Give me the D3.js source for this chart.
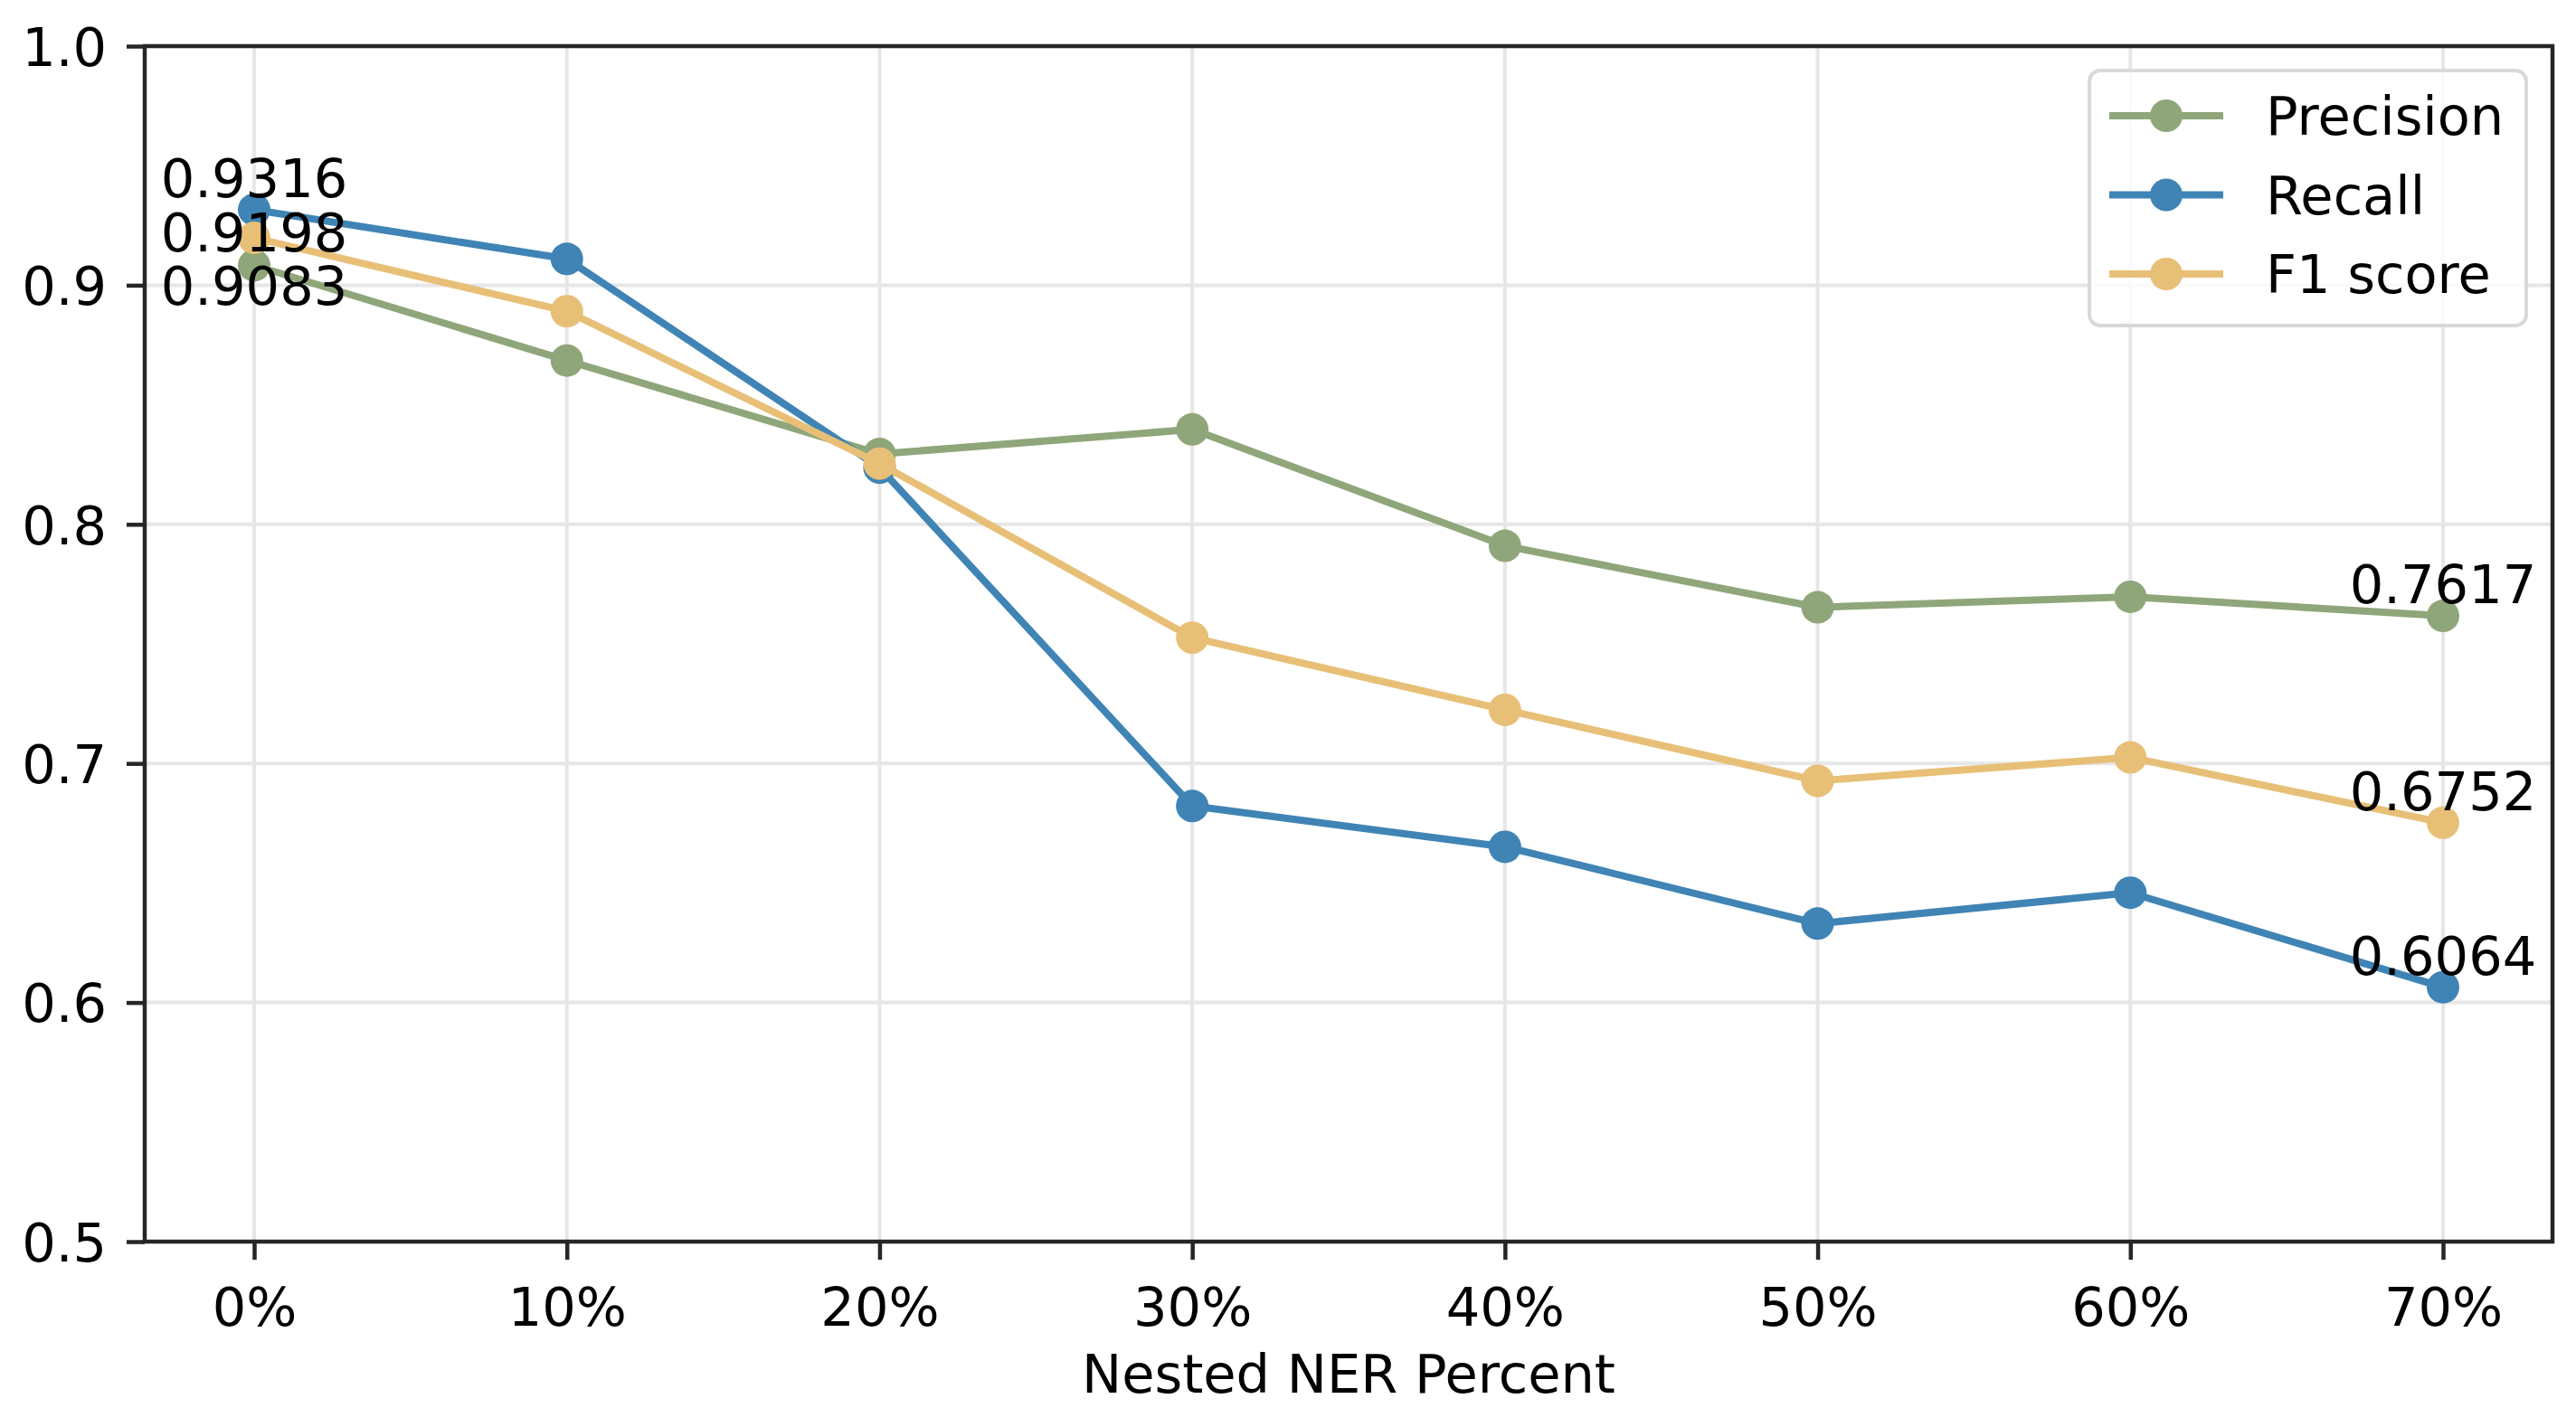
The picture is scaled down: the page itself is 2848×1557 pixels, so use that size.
<!DOCTYPE html>
<html>
<head>
<meta charset="utf-8">
<script src="https://cdn.jsdelivr.net/npm/d3@7"></script>
<style>
  body { margin: 0; background: #fff; }
  svg text { font-family: "DejaVu Sans", sans-serif; fill: #000; }
</style>
</head>
<body>
<svg id="chart" width="2848" height="1557"></svg>
<script>
// data
const percents = [0, 10, 20, 30, 40, 50, 60, 70];
const precision = [0.9083, 0.8685, 0.8294, 0.8397, 0.7910, 0.7653, 0.7697, 0.7617];
const recall    = [0.9316, 0.9110, 0.8237, 0.6822, 0.6651, 0.6330, 0.6459, 0.6064];
const f1score   = [0.9198, 0.8891, 0.8254, 0.7526, 0.7224, 0.6927, 0.7025, 0.6752];
const yTicks = [0.5, 0.6, 0.7, 0.8, 0.9, 1.0];

const series = [
    { name: 'Precision', values: precision, color: '#8fa67a' },
    { name: 'Recall',    values: recall,    color: '#3f84b5' },
    { name: 'F1 score',  values: f1score,   color: '#e8bf77' }
];

// labels printed next to the first and last points (dy = pixel shift of the baseline)
const labels = [
    { s: 1, i: 0, dy: -14 },
    { s: 2, i: 0, dy: 15 },
    { s: 0, i: 0, dy: 44 },
    { s: 0, i: 7, dy: -14 },
    { s: 2, i: 7, dy: -14 },
    { s: 1, i: 7, dy: -14 }
];

const plotLeft = 160, plotRight = 2822, plotTop = 51, plotBottom = 1373;
const fontSize = 59;

const svg = d3.select('#chart');

const x = d3.scaleLinear().domain([-3.5, 73.5]).range([plotLeft, plotRight]);
const y = d3.scaleLinear().domain([0.5, 1.0]).range([plotBottom, plotTop]);

// grid
const grid = svg.append('g');
grid.selectAll('.vgrid')
    .data(percents)
    .enter().append('line')
    .attr('x1', d => x(d)).attr('x2', d => x(d))
    .attr('y1', plotTop).attr('y2', plotBottom)
    .attr('stroke', '#e6e6e6').attr('stroke-width', 4);
grid.selectAll('.hgrid')
    .data(yTicks)
    .enter().append('line')
    .attr('x1', plotLeft).attr('x2', plotRight)
    .attr('y1', d => y(d)).attr('y2', d => y(d))
    .attr('stroke', '#e6e6e6').attr('stroke-width', 4);

// axes
const xAxis = svg.append('g')
    .attr('transform', `translate(0,${plotBottom})`)
    .call(d3.axisBottom(x).tickValues(percents).tickFormat(d => d + '%').tickSize(20).tickSizeOuter(0).tickPadding(15));
const yAxis = svg.append('g')
    .attr('transform', `translate(${plotLeft},0)`)
    .call(d3.axisLeft(y).tickValues(yTicks).tickFormat(d3.format('.1f')).tickSize(20).tickSizeOuter(0).tickPadding(22));

[xAxis, yAxis].forEach(a => {
    a.select('.domain').remove();
    a.selectAll('.tick line').attr('stroke', '#262626').attr('stroke-width', 4.5);
    a.selectAll('.tick text')
        .attr('font-size', fontSize)
        .attr('font-family', '"DejaVu Sans", sans-serif')
        .attr('fill', '#000');
});
xAxis.selectAll('.tick text').attr('dy', null).attr('y', 93);
yAxis.selectAll('.tick text').attr('dy', '0.36em');

// lines and markers
const line = d3.line()
    .x((d, i) => x(percents[i]))
    .y(d => y(d));

series.forEach(s => {
    const g = svg.append('g');
    g.append('path')
        .attr('d', line(s.values))
        .attr('fill', 'none')
        .attr('stroke', s.color)
        .attr('stroke-width', 8)
        .attr('stroke-linejoin', 'round')
        .attr('stroke-linecap', 'square');
    g.selectAll('circle')
        .data(s.values)
        .enter().append('circle')
        .attr('cx', (d, i) => x(percents[i]))
        .attr('cy', d => y(d))
        .attr('r', 18)
        .attr('fill', s.color);
});

// value labels
svg.selectAll('.val')
    .data(labels)
    .enter().append('text')
    .attr('class', 'val')
    .attr('x', d => x(percents[d.i]))
    .attr('y', d => y(series[d.s].values[d.i]) + d.dy)
    .attr('text-anchor', 'middle')
    .attr('font-size', fontSize)
    .text(d => series[d.s].values[d.i].toFixed(4));

// spines
svg.append('rect')
    .attr('x', plotLeft).attr('y', plotTop)
    .attr('width', plotRight - plotLeft).attr('height', plotBottom - plotTop)
    .attr('fill', 'none')
    .attr('stroke', '#262626')
    .attr('stroke-width', 4.5);

// x label
svg.append('text')
    .attr('x', (plotLeft + plotRight) / 2)
    .attr('y', 1540)
    .attr('text-anchor', 'middle')
    .attr('font-size', fontSize)
    .text('Nested NER Percent');

// legend
const legend = svg.append('g');
legend.append('rect')
    .attr('x', 2310).attr('y', 78)
    .attr('width', 483).attr('height', 282)
    .attr('rx', 12)
    .attr('fill', 'rgba(255,255,255,0.8)')
    .attr('stroke', '#d9d9d9')
    .attr('stroke-width', 4);

const item = legend.selectAll('.item')
    .data(series)
    .enter().append('g')
    .attr('class', 'item')
    .attr('transform', (d, i) => `translate(0,${128 + i * 87.5})`);
item.append('line')
    .attr('x1', 2332).attr('x2', 2458)
    .attr('stroke', d => d.color)
    .attr('stroke-width', 8);
item.append('circle')
    .attr('cx', 2395).attr('r', 18)
    .attr('fill', d => d.color);
item.append('text')
    .attr('x', 2505).attr('y', 21)
    .attr('font-size', fontSize)
    .text(d => d.name);
</script>
</body>
</html>
